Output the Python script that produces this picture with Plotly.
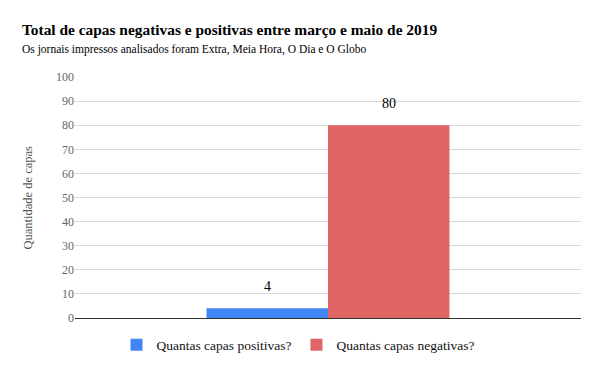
import plotly.graph_objects as go

categories = [""]
series_names = ["Quantas capas positivas?", "Quantas capas negativas?"]
positivas = [4]
negativas = [80]
colors = ["#4285F4", "#E06666"]

FONT = "Liberation Serif"
# page body adds an 8px offset; compensate by shrinking the figure
W, H = 592, 363
L, R, T, B = 67, 19, 69, 53
PW = W - L - R
PH = H - T - B

fig = go.Figure()
for i, (name, vals, col) in enumerate(zip(series_names, [positivas, negativas], colors)):
    fig.add_trace(go.Bar(
        x=categories, y=vals, name=name, marker=dict(color=col, line=dict(width=0)),
        offsetgroup=str(i),
    ))

fig.update_layout(
    width=W, height=H,
    margin=dict(l=L, r=R, t=T, b=B, autoexpand=False),
    paper_bgcolor="white", plot_bgcolor="white",
    barmode="group", bargap=0.52, bargroupgap=0,
    font=dict(family=FONT, size=12, color="#000000"),
    showlegend=True,
    legend=dict(orientation="h", x=0.5 - 6 / W, xanchor="center", xref="container",
                y=(H - 337) / H, yref="container", yanchor="middle",
                font=dict(family=FONT, size=13.5, color="#111111"),
                itemwidth=30),
    xaxis=dict(showticklabels=False, showgrid=False, showline=True,
               linecolor="#333333", linewidth=1, ticks="", automargin=False),
    yaxis=dict(range=[0, 100], dtick=10, showgrid=True, gridcolor="#D9D9D9",
               zeroline=False, showline=False, ticks="", automargin=False,
               tickfont=dict(family=FONT, size=12, color="#666666")),
)

# title and subtitle
fig.add_annotation(text="<b>Total de capas negativas e positivas entre março e maio de 2019</b>",
                   xref="paper", yref="paper", x=-(L - 12) / PW, y=1 + (T - 21) / PH,
                   xanchor="left", yanchor="middle", showarrow=False,
                   font=dict(family=FONT, size=15.4, color="#000000"))
fig.add_annotation(text="Os jornais impressos analisados foram Extra, Meia Hora, O Dia e O Globo",
                   xref="paper", yref="paper", x=-(L - 12) / PW, y=1 + (T - 42) / PH,
                   xanchor="left", yanchor="middle", showarrow=False,
                   font=dict(family=FONT, size=11.5, color="#000000"))
# y axis title
fig.add_annotation(text="Quantidade de capas", xref="paper", yref="paper",
                   x=-(L - 19) / PW, y=0.5, xanchor="center", yanchor="middle",
                   textangle=-90, showarrow=False,
                   font=dict(family=FONT, size=12.5, color="#555555"))

# data labels
for vals, offs in zip([positivas, negativas], [-0.12, 0.12]):
    for c, v in zip(categories, vals):
        fig.add_annotation(text=str(v), x=offs, xref="x", y=v, yref="y",
                           yanchor="bottom", yshift=12, showarrow=False,
                           font=dict(family=FONT, size=14, color="#000000"))

fig.update_xaxes(type="category")
fig.write_html("out.html")
